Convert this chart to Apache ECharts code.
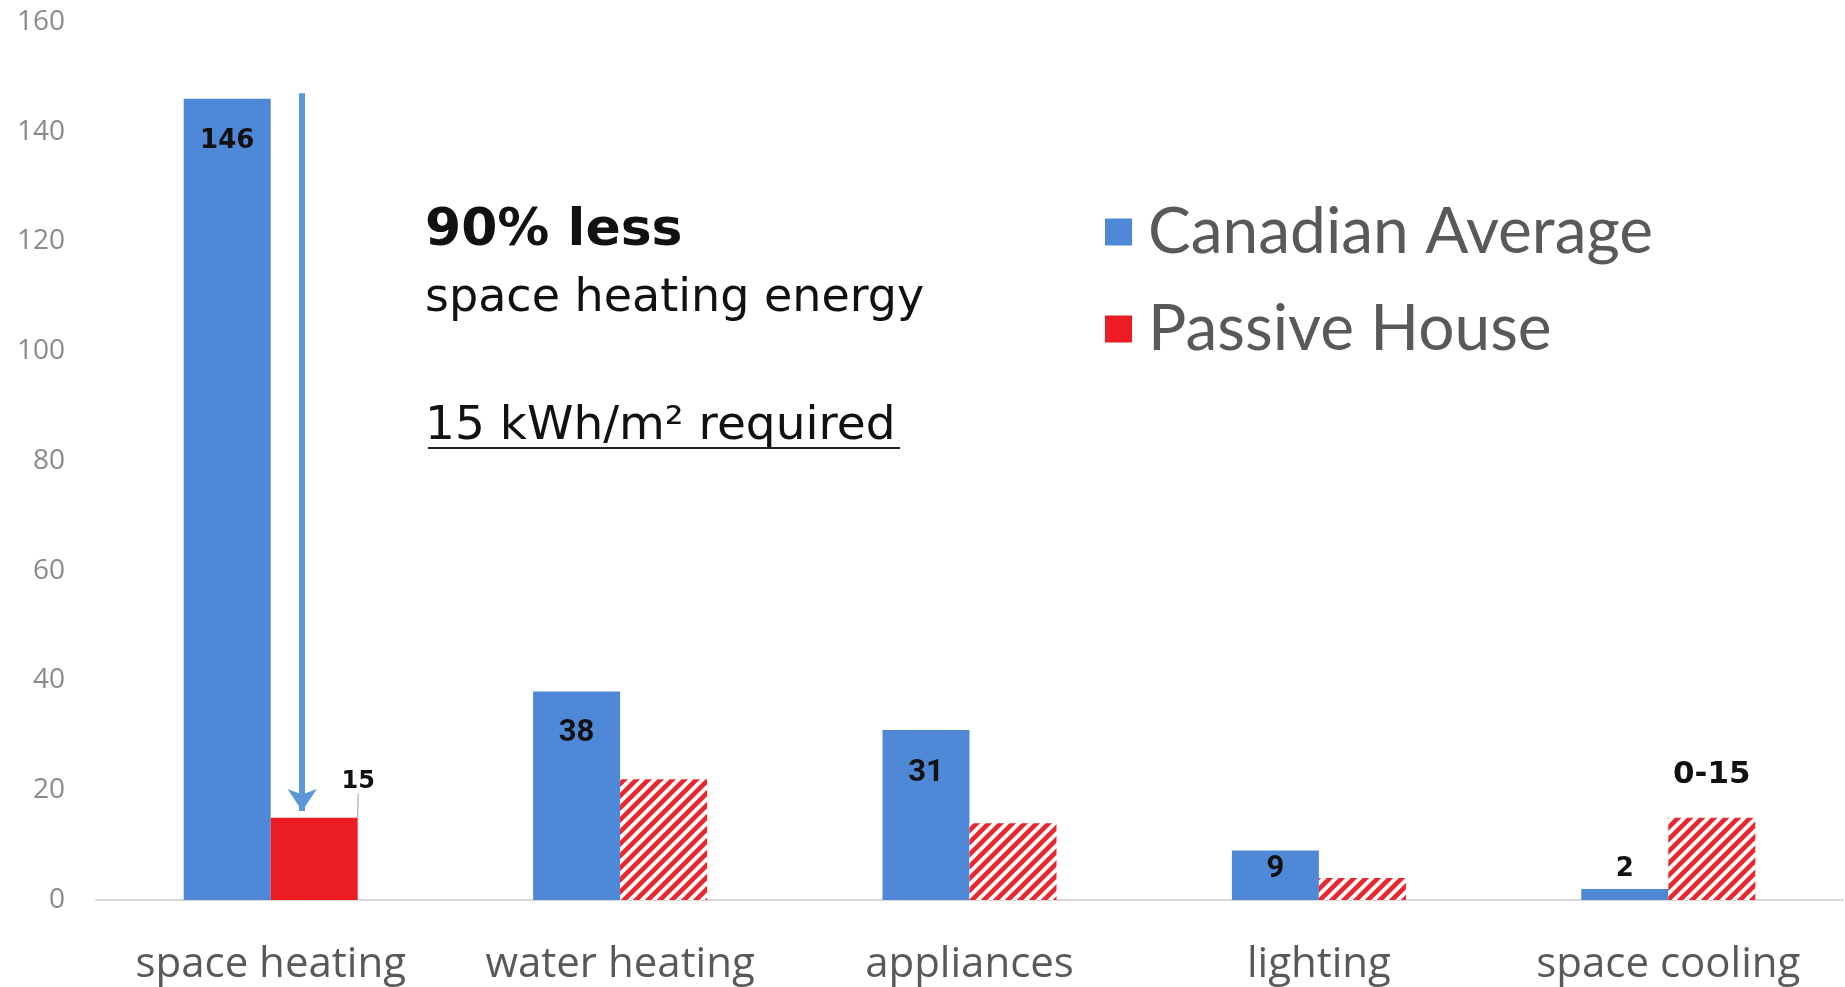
<!DOCTYPE html>
<html>
<head>
<meta charset="utf-8">
<script src="https://cdn.jsdelivr.net/npm/echarts@6/dist/echarts.min.js"></script>
<style>
html,body{margin:0;padding:0;background:#fff;}
#chart{width:1845px;height:987px;}
</style>
</head>
<body>
<div id="chart"></div>
<script>
// ---- data ----
const categories = ['space heating', 'water heating', 'appliances', 'lighting', 'space cooling'];
const canadianAverage = [146, 38, 31, 9, 2];
const passiveHouse = [15, 22, 14, 4, 15];
const passiveLabels = ['15', '', '', '', '0-15'];
const yMin = 0, yMax = 160, yStep = 20;
// annotation arrow (x on a 0..4 category scale, y in kWh/m²)
const arrowX = 0.09;
const arrowFromY = 147;
const arrowToY = 16.2;
const noteLines = ['90% less', 'space heating energy', '15 kWh/m\u00B2 required'];

// ---- styles ----
const BLUE = '#4f88d6';
const RED = '#ec1c24';
const STRIPE_RED = '#e8262f';

function stripePattern() {
  const p = 12;
  const c = document.createElement('canvas');
  c.width = p; c.height = p;
  const ctx = c.getContext('2d');
  ctx.fillStyle = '#ffffff';
  ctx.fillRect(0, 0, p, p);
  ctx.strokeStyle = STRIPE_RED;
  ctx.lineWidth = 4.6;
  ctx.beginPath();
  ctx.moveTo(0, p); ctx.lineTo(p, 0);
  ctx.moveTo(-p / 2, p / 2); ctx.lineTo(p / 2, -p / 2);
  ctx.moveTo(p / 2, 3 * p / 2); ctx.lineTo(3 * p / 2, p / 2);
  ctx.stroke();
  return c;
}
const pattern = { image: stripePattern(), repeat: 'repeat' };

const blueLabelStyles = [
  { fontFamily: 'DejaVu Sans', fontSize: 26, distance: 29 },
  { fontFamily: 'Roboto', fontSize: 31, distance: 26 },
  { fontFamily: 'Roboto', fontSize: 31, distance: 28 },
  { fontFamily: 'Roboto', fontSize: 31, distance: 3 },
  { fontFamily: 'DejaVu Sans', fontSize: 26, distance: 7, position: 'top' }
];

const blueData = canadianAverage.map((v, i) => ({
  value: v,
  label: Object.assign({ show: true, position: 'insideTop', fontWeight: 'bold', color: '#111' }, blueLabelStyles[i])
}));

const redData = passiveHouse.map((v, i) => {
  const item = { value: v };
  if (i > 0) item.itemStyle = { color: pattern };
  if (passiveLabels[i]) {
    item.label = {
      show: true, position: 'top', formatter: passiveLabels[i],
      fontFamily: 'DejaVu Sans', fontWeight: 'bold', color: '#111',
      fontSize: i === 0 ? 24 : 31, distance: i === 0 ? 5 : 27
    };
    item.labelLine = { show: i === 0, lineStyle: { color: '#a0a0a0', width: 1 } };
  }
  return item;
});

const chart = echarts.init(document.getElementById('chart'), null, { renderer: 'canvas' });

chart.setOption({
  animation: false,
  backgroundColor: '#ffffff',
  grid: { left: 96, right: 2, top: 22, bottom: 87, containLabel: false, outerBoundsMode: 'none' },
  legend: {
    data: ['Canadian Average', 'Passive House'],
    orient: 'vertical',
    left: 1100, top: 195,
    itemWidth: 27, itemHeight: 27, itemGap: 33,
    icon: 'rect',
    selectedMode: false,
    textStyle: { fontFamily: 'Lato', fontSize: 64, lineHeight: 64, color: '#595959', padding: [0, 0, 0, 11] }
  },
  xAxis: [
    {
      type: 'category', data: categories,
      axisLine: { show: true, lineStyle: { color: '#d9d9d9', width: 2 } },
      axisTick: { show: false },
      axisLabel: { interval: 0, margin: 44, fontFamily: 'Open Sans', fontSize: 42, color: '#595959' },
      splitLine: { show: false }
    },
    { type: 'value', min: -0.5, max: categories.length - 0.5, show: false }
  ],
  yAxis: {
    type: 'value', min: yMin, max: yMax, interval: yStep,
    axisLine: { show: false }, axisTick: { show: false },
    splitLine: { show: false },
    axisLabel: { margin: 31, fontFamily: 'Open Sans', fontSize: 28, color: '#8a8a8a' }
  },
  series: [
    {
      name: 'Canadian Average', type: 'bar', xAxisIndex: 0,
      barWidth: 87, barGap: '0%',
      itemStyle: { color: BLUE },
      data: blueData
    },
    {
      name: 'Passive House', type: 'bar', xAxisIndex: 0,
      barWidth: 87, barGap: '0%',
      itemStyle: { color: RED },
      labelLayout: function (params) {
        return params.dataIndex === 0 ? { dx: 44, dy: -19 } : {};
      },
      labelLine: { show: false },
      data: redData
    },
    {
      name: 'arrow', type: 'lines', coordinateSystem: 'cartesian2d',
      xAxisIndex: 1, yAxisIndex: 0, silent: true, z: 5,
      symbol: ['none', 'arrow'], symbolSize: [20, 22],
      lineStyle: { color: '#5a96d8', width: 6, opacity: 1, curveness: 0 },
      data: [{ coords: [[arrowX, arrowFromY], [arrowX, arrowToY]] }]
    }
  ],
  graphic: [
    { type: 'text', x: 425, y: 231, style: { text: noteLines[0], fontFamily: 'DejaVu Sans', fontWeight: 'bold', fontSize: 52, fill: '#111', align: 'left', verticalAlign: 'middle' } },
    { type: 'text', x: 425, y: 299, style: { text: noteLines[1], fontFamily: 'DejaVu Sans', fontSize: 46, fill: '#111', align: 'left', verticalAlign: 'middle' } },
    { type: 'text', x: 425, y: 427, style: { text: noteLines[2], fontFamily: 'DejaVu Sans', fontSize: 47, fill: '#111', align: 'left', verticalAlign: 'middle' } },
    { type: 'line', shape: { x1: 428, y1: 448, x2: 900, y2: 448 }, style: { stroke: '#222', lineWidth: 2 } }
  ]
});
</script>
</body>
</html>
